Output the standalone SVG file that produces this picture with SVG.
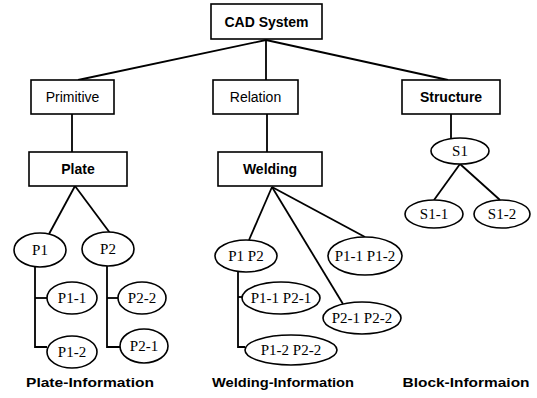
<svg xmlns="http://www.w3.org/2000/svg" width="537" height="398" viewBox="0 0 537 398">
  <style>
    .box { fill: #fff; stroke: #000; stroke-width: 1.6; }
    .ell { fill: #fff; stroke: #000; stroke-width: 1.6; }
    .edge { fill: none; stroke: #000; stroke-width: 1.8; }
    .lbl { font-family: "Liberation Sans", Arial, sans-serif; font-size: 14px; text-anchor: middle; fill: #000; }
    .b { font-weight: bold; }
    .el { font-family: "Liberation Serif", "Times New Roman", serif; font-size: 15px; text-anchor: middle; fill: #000; }
    .cap { font-family: "Liberation Sans", Arial, sans-serif; font-size: 12px; font-weight: bold; text-anchor: middle; fill: #000; }
  </style>
  <rect width="537" height="398" fill="#fff"/>

  <g id="connectors">
    <line class="edge" x1="266" y1="40" x2="78" y2="80"/>
    <line class="edge" x1="266" y1="40" x2="266" y2="80"/>
    <line class="edge" x1="266" y1="40" x2="448" y2="80"/>
    <line class="edge" x1="72" y1="114" x2="72" y2="152"/>
    <line class="edge" x1="267" y1="114" x2="267" y2="152"/>
    <line class="edge" x1="451" y1="114" x2="451" y2="138"/>
    <line class="edge" x1="75" y1="186" x2="49" y2="234"/>
    <line class="edge" x1="75" y1="186" x2="110" y2="233"/>
    <line class="edge" x1="460" y1="164" x2="434" y2="200"/>
    <line class="edge" x1="460" y1="164" x2="500" y2="200"/>
    <line class="edge" x1="272" y1="187" x2="249" y2="240"/>
    <line class="edge" x1="272" y1="187" x2="343" y2="304"/>
    <line class="edge" x1="272" y1="187" x2="365" y2="237"/>
    <polyline class="edge" points="35,267 35,347 47,347"/>
    <line class="edge" x1="35" y1="298" x2="47" y2="298"/>
    <polyline class="edge" points="107,266 107,347 120,347"/>
    <line class="edge" x1="107" y1="298" x2="118" y2="298"/>
    <polyline class="edge" points="238,272 238,347 245,347"/>
    <line class="edge" x1="238" y1="297" x2="242" y2="297"/>
  </g>

  <g id="cad-system">
    <rect class="box" x="211" y="4" width="111" height="35"/>
    <text class="lbl b" x="266.5" y="26.5">CAD System</text>
  </g>
  <g id="primitive">
    <rect class="box" x="31" y="80" width="83" height="34"/>
    <text class="lbl" x="72.5" y="102">Primitive</text>
  </g>
  <g id="relation">
    <rect class="box" x="213" y="80" width="85" height="34"/>
    <text class="lbl" x="255.5" y="102">Relation</text>
  </g>
  <g id="structure">
    <rect class="box" x="402" y="80" width="98" height="34"/>
    <text class="lbl b" x="451" y="102">Structure</text>
  </g>
  <g id="plate">
    <rect class="box" x="29" y="152" width="98" height="34"/>
    <text class="lbl b" x="78" y="174">Plate</text>
  </g>
  <g id="welding">
    <rect class="box" x="218" y="152" width="104" height="34"/>
    <text class="lbl b" x="270" y="174">Welding</text>
  </g>

  <g id="s1">
    <ellipse class="ell" cx="460" cy="151" rx="29" ry="13"/>
    <text class="el" x="460" y="156">S1</text>
  </g>
  <g id="s1-1">
    <ellipse class="ell" cx="434" cy="214" rx="29" ry="14"/>
    <text class="el" x="434" y="219">S1-1</text>
  </g>
  <g id="s1-2">
    <ellipse class="ell" cx="502" cy="214" rx="28" ry="14"/>
    <text class="el" x="502" y="219">S1-2</text>
  </g>

  <g id="p1">
    <ellipse class="ell" cx="40" cy="250" rx="26" ry="17"/>
    <text class="el" x="40" y="255">P1</text>
  </g>
  <g id="p2">
    <ellipse class="ell" cx="108" cy="249" rx="26" ry="17"/>
    <text class="el" x="108" y="254">P2</text>
  </g>
  <g id="p1-1">
    <ellipse class="ell" cx="72" cy="298" rx="25" ry="16"/>
    <text class="el" x="72" y="303">P1-1</text>
  </g>
  <g id="p1-2">
    <ellipse class="ell" cx="72" cy="352" rx="25" ry="16"/>
    <text class="el" x="72" y="357">P1-2</text>
  </g>
  <g id="p2-2">
    <ellipse class="ell" cx="142" cy="298" rx="24" ry="16"/>
    <text class="el" x="142" y="303">P2-2</text>
  </g>
  <g id="p2-1">
    <ellipse class="ell" cx="144" cy="346" rx="24" ry="17"/>
    <text class="el" x="144" y="351">P2-1</text>
  </g>

  <g id="w-p1-p2">
    <ellipse class="ell" cx="246" cy="256" rx="31" ry="16"/>
    <text class="el" x="246" y="261">P1 P2</text>
  </g>
  <g id="w-p11-p12">
    <ellipse class="ell" cx="365" cy="256" rx="37" ry="19"/>
    <text class="el" x="365" y="261">P1-1 P1-2</text>
  </g>
  <g id="w-p11-p21">
    <ellipse class="ell" cx="281" cy="298" rx="39" ry="16"/>
    <text class="el" x="281" y="303">P1-1 P2-1</text>
  </g>
  <g id="w-p21-p22">
    <ellipse class="ell" cx="362" cy="318" rx="39" ry="16"/>
    <text class="el" x="362" y="323">P2-1 P2-2</text>
  </g>
  <g id="w-p12-p22">
    <ellipse class="ell" cx="291" cy="350" rx="46" ry="15"/>
    <text class="el" x="291" y="355">P1-2 P2-2</text>
  </g>

  <g id="captions">
    <text class="cap" x="90" y="387" textLength="128" lengthAdjust="spacingAndGlyphs">Plate-Information</text>
    <text class="cap" x="283" y="387" textLength="142" lengthAdjust="spacingAndGlyphs">Welding-Information</text>
    <text class="cap" x="466" y="387" textLength="127" lengthAdjust="spacingAndGlyphs">Block-Informaion</text>
  </g>
</svg>
